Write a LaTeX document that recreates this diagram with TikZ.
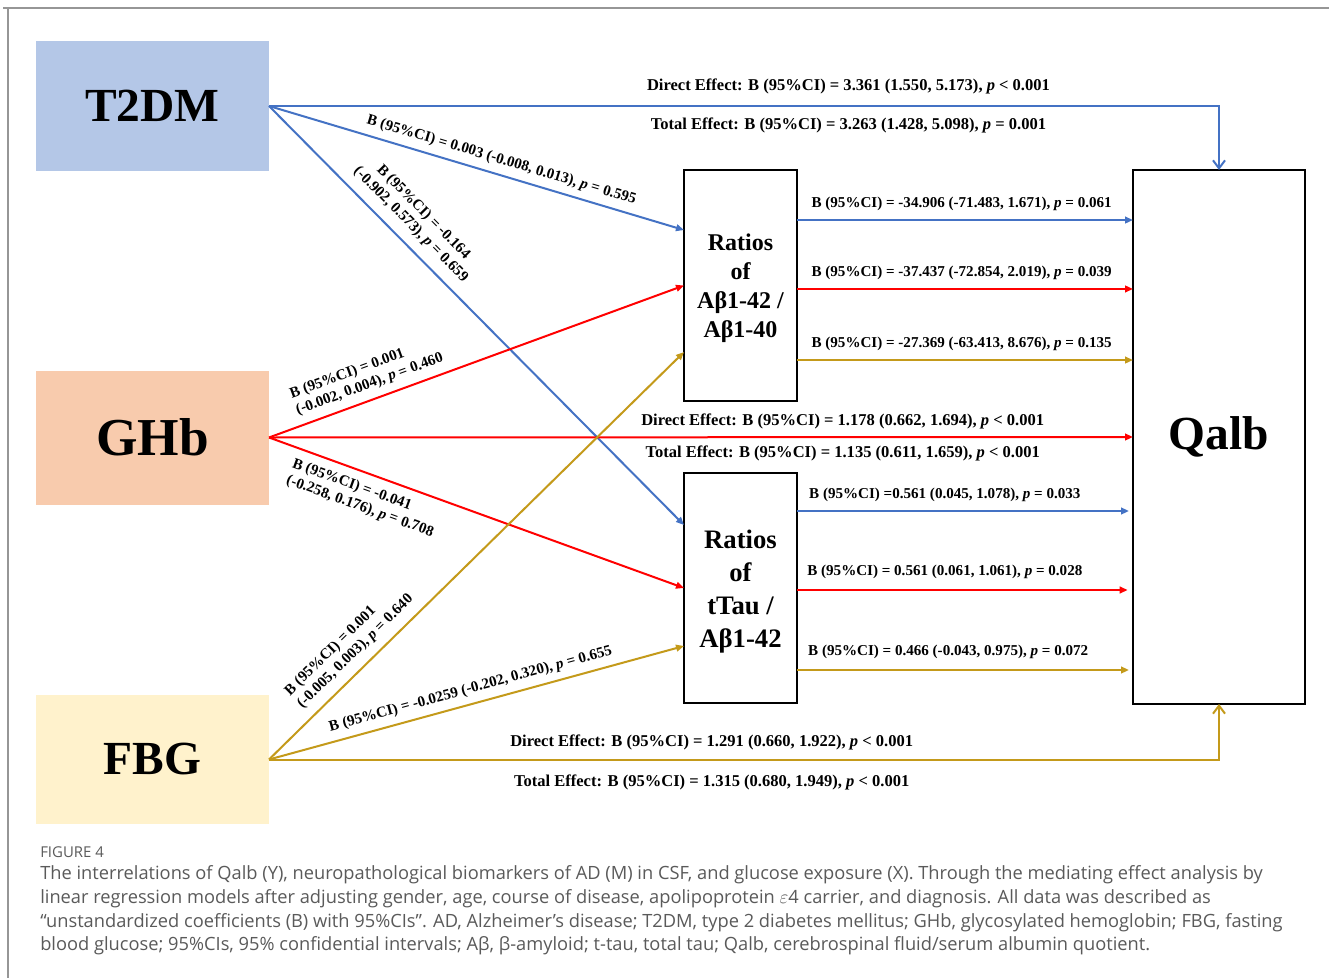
\documentclass[tikz,border=0pt]{standalone}
\usepackage{fontspec}
\setmainfont{Liberation Serif}
\newfontfamily\capfont{Open Sans}
\usetikzlibrary{arrows.meta,calc}
\definecolor{cblue}{RGB}{68,114,196}
\definecolor{cred}{RGB}{255,0,0}
\definecolor{cgold}{RGB}{196,154,26}
\definecolor{fblue}{RGB}{180,199,231}
\definecolor{forange}{RGB}{248,203,173}
\definecolor{fyellow}{RGB}{255,242,204}
\definecolor{framegray}{RGB}{150,150,150}
\definecolor{capgray}{RGB}{90,90,90}
\tikzset{
 box/.style={rectangle, inner sep=0pt, outer sep=0pt},
 src/.style={box, minimum width=174.75pt},
 med/.style={box, draw=black, line width=1.8pt, minimum width=84.75pt, minimum height=173.25pt},
 medtext/.style={inner sep=0pt, align=center},
 lab/.style={text=black, font=\bfseries\fontsize{11.3pt}{13.2pt}\selectfont, inner sep=1pt},
 dlab/.style={text=black, font=\bfseries\fontsize{12.4pt}{14pt}\selectfont, inner sep=1pt},
 ln/.style={line width=1.5pt},
 tip/.style={-{Triangle[length=6pt,width=5pt]}},
 vtip/.style={-{Straight Barb[length=6pt,width=9pt]}},
 capt/.style={anchor=west, inner sep=0pt, text=capgray, font=\capfont\fontsize{13.7pt}{16pt}\selectfont},
}
\begin{document}
\begin{tikzpicture}[x=0.75pt,y=-0.75pt]
\useasboundingbox (0,0) rectangle (1329,978);
\fill[white] (0,0) rectangle (1329,978);
\draw[framegray, line width=1.5pt] (3,8) -- (1329,8);
\draw[framegray, line width=1.5pt] (8,8) -- (8,978);

\node[src, fill=fblue, minimum height=97.5pt, font=\bfseries\fontsize{35.6pt}{40pt}\selectfont] (t) at (152.5,106) {T2DM};
\node[src, fill=forange, minimum height=100.5pt, font=\bfseries\fontsize{40pt}{44pt}\selectfont] (g) at (152.5,437.5) {GHb};
\node[src, fill=fyellow, minimum height=96.75pt, font=\bfseries\fontsize{35.6pt}{40pt}\selectfont] (f) at (152.5,759.5) {FBG};
\node[med] (m1) at (740.5,285.5) {};
\node[medtext, font=\bfseries\fontsize{18pt}{21.75pt}\selectfont] (m1t) at ([yshift=-2pt]m1.center) {Ratios\\of\\Aβ1-42 /\\Aβ1-40};
\node[med, minimum height=172.5pt] (m2) at (740.5,588) {};
\node[medtext, font=\bfseries\fontsize{20pt}{24.75pt}\selectfont] (m2t) at ([yshift=-3pt]m2.center) {Ratios\\of\\tTau /\\Aβ1-42};
\node[box, draw=black, line width=1.8pt, minimum width=129pt, minimum height=400.5pt, font=\bfseries\fontsize{35.6pt}{40pt}\selectfont] (q) at (1219,437) {Qalb};

% T2DM
\draw[ln, cblue, vtip] (t.east) -| (q.north)
  node[dlab, pos=0.305, above=7pt] {Direct Effect: B (95\%CI) = 3.361 (1.550, 5.173), \textit{p} < 0.001}
  node[dlab, pos=0.305, below=7.5pt] {Total Effect: B (95\%CI) = 3.263 (1.428, 5.098), \textit{p} = 0.001};
\draw[ln, cblue, tip] (t.east) -- ([yshift=41.6pt]m1.west)
  node[lab, pos=0.55, sloped, above=4pt] {B (95\%CI) = 0.003 (-0.008, 0.013), \textit{p} = 0.595};
\draw[ln, cblue, tip] (t.east) -- ([yshift=47.25pt]m2.west)
  node[lab, pos=0.312, sloped, above=6pt, align=center] {B (95\%CI) = -0.164\\(-0.902, 0.573), \textit{p} = 0.659};

% GHb
\draw[ln, cred, tip] (g.east) -- (m1.west)
  node[lab, pos=0.255, sloped, above=4.5pt, align=left] {B (95\%CI) = 0.001\\(-0.002, 0.004), \textit{p} = 0.460};
\draw[ln, cred, tip] (g.east) -- (q.west)
  node[dlab, pos=0.664, above=4.5pt] {Direct Effect: B (95\%CI) = 1.178 (0.662, 1.694), \textit{p} < 0.001}
  node[dlab, pos=0.664, below=5pt] {Total Effect: B (95\%CI) = 1.135 (0.611, 1.659), \textit{p} < 0.001};
\draw[ln, cred, tip] (g.east) -- (m2.west)
  node[lab, pos=0.247, sloped, below=5.5pt, align=left] {B (95\%CI) = -0.041\\(-0.258, 0.176), \textit{p} = 0.708};

% FBG
\draw[ln, cgold, tip] (f.east) -- ([yshift=-49.9pt]m1.west)
  node[lab, pos=0.236, sloped, above=5.5pt, align=left] {B (95\%CI) = 0.001\\(-0.005, 0.003), \textit{p} = 0.640};
\draw[ln, cgold, tip] (f.east) -- ([yshift=-43.5pt]m2.west)
  node[lab, pos=0.495, sloped, above=4pt] {B (95\%CI) = -0.0259 (-0.202, 0.320), \textit{p} = 0.655};
\draw[ln, cgold, vtip] (f.east) -| (q.south)
  node[dlab, pos=0.233, above=5pt] {Direct Effect: B (95\%CI) = 1.291 (0.660, 1.922), \textit{p} < 0.001}
  node[dlab, pos=0.233, below=10pt] {Total Effect: B (95\%CI) = 1.315 (0.680, 1.949), \textit{p} < 0.001};

% M1 -> Qalb
\draw[ln, cblue, tip] ([yshift=49.1pt]m1.east) -- ([yshift=49.1pt]m1.east -| q.west)
  node[lab, pos=0.49, above=5pt] {B (95\%CI) = -34.906 (-71.483, 1.671), \textit{p} = 0.061};
\draw[ln, cred, tip] ([yshift=-2.6pt]m1.east) -- ([yshift=-2.6pt]m1.east -| q.west)
  node[lab, pos=0.49, above=5pt] {B (95\%CI) = -37.437 (-72.854, 2.019), \textit{p} = 0.039};
\draw[ln, cgold, tip] ([yshift=-55.9pt]m1.east) -- ([yshift=-55.9pt]m1.east -| q.west)
  node[lab, pos=0.49, above=5pt] {B (95\%CI) = -27.369 (-63.413, 8.676), \textit{p} = 0.135};

% M2 -> Qalb
\draw[ln, cblue, tip, shorten >=3pt] ([yshift=57.75pt]m2.east) -- ([yshift=57.75pt]m2.east -| q.west)
  node[lab, pos=0.44, above=5pt] {B (95\%CI) =0.561 (0.045, 1.078), \textit{p} = 0.033};
\draw[ln, cred, tip, shorten >=4pt] ([yshift=-1.5pt]m2.east) -- ([yshift=-1.5pt]m2.east -| q.west)
  node[lab, pos=0.44, above=6.5pt] {B (95\%CI) = 0.561 (0.061, 1.061), \textit{p} = 0.028};
\draw[ln, cgold, tip, shorten >=3pt] ([yshift=-61.5pt]m2.east) -- ([yshift=-61.5pt]m2.east -| q.west)
  node[lab, pos=0.45, above=7pt] {B (95\%CI) = 0.466 (-0.043, 0.975), \textit{p} = 0.072};

% caption
\node[capt, font=\capfont\fontsize{11.2pt}{13pt}\selectfont] (fig) at (40,852) {FIGURE 4};
\node[capt] (c1) at (40,875) {The interrelations of Qalb (Y), neuropathological biomarkers of AD (M) in CSF, and glucose exposure (X). Through the mediating effect analysis by};
\node[capt] (c2) at (40,899) {linear regression models after adjusting gender, age, course of disease, apolipoprotein $\varepsilon$4 carrier, and diagnosis. All data was described as};
\node[capt] (c3) at (40,923) {“unstandardized coefficients (B) with 95\%CIs”. AD, Alzheimer’s disease; T2DM, type 2 diabetes mellitus; GHb, glycosylated hemoglobin; FBG, fasting};
\node[capt] (c4) at (40,946) {blood glucose; 95\%CIs, 95\% confidential intervals; Aβ, β-amyloid; t-tau, total tau; Qalb, cerebrospinal fluid/serum albumin quotient.};
\end{tikzpicture}
\end{document}
